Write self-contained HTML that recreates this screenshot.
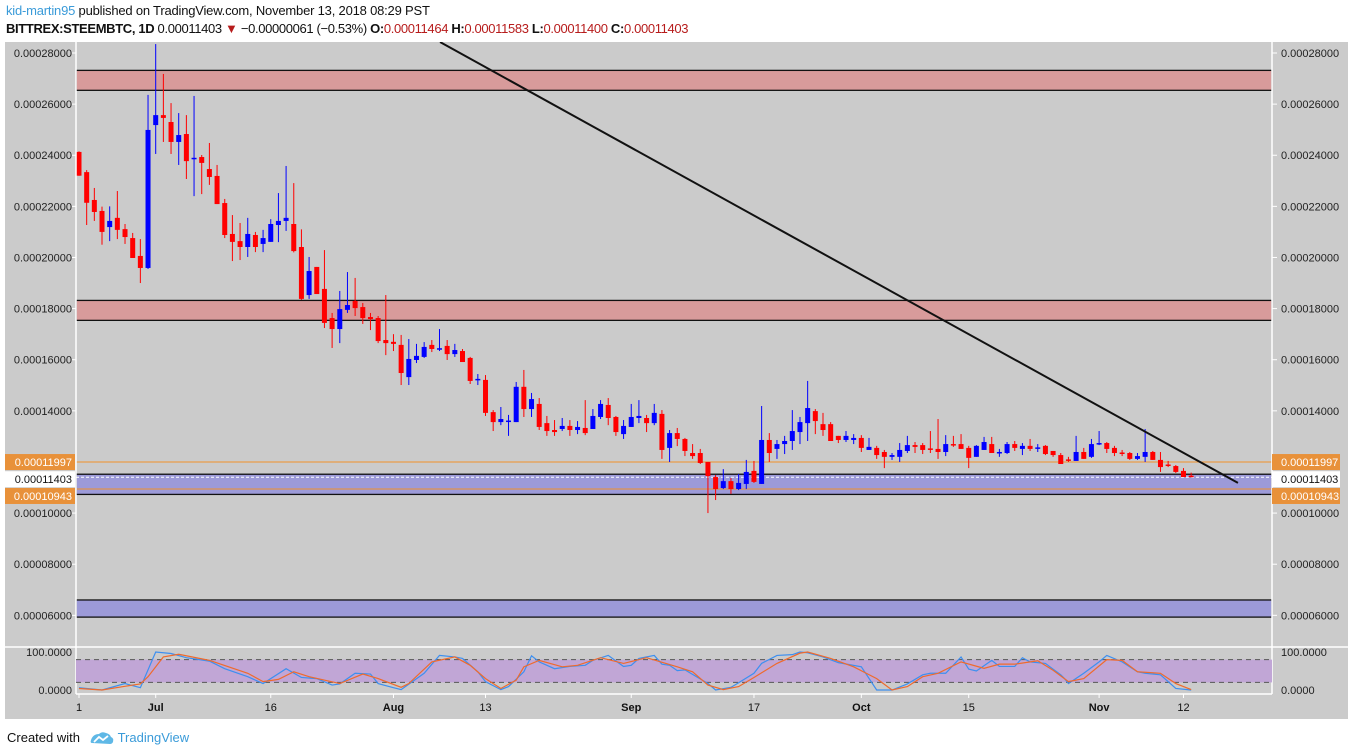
<!DOCTYPE html>
<html><head><meta charset="utf-8">
<style>
body{margin:0;width:1348px;height:756px;background:#fff;overflow:hidden;font-family:"Liberation Sans",sans-serif;}
#hdr1{position:absolute;left:6px;top:3px;font-size:13px;color:#111;white-space:nowrap;letter-spacing:-0.2px}
#hdr2{position:absolute;left:6px;top:21px;font-size:13px;color:#111;white-space:nowrap;letter-spacing:-0.35px}
.r{color:#b71c1c}
#foot{position:absolute;left:7px;top:730px;font-size:13px;color:#111;white-space:nowrap}
svg{position:absolute;left:0;top:0}
</style></head><body>
<div id="hdr1"><span style="color:#3a9bd9">kid-martin95</span> published on TradingView.com, November 13, 2018 08:29 PST</div>
<div id="hdr2"><b>BITTREX:STEEMBTC, 1D</b> 0.00011403 <span class="r">▼</span> −0.00000061 (−0.53%) <b>O:</b><span class="r">0.00011464</span> <b>H:</b><span class="r">0.00011583</span> <b>L:</b><span class="r">0.00011400</span> <b>C:</b><span class="r">0.00011403</span></div>
<svg id="chart" width="1348" height="756"></svg>
<div id="foot">Created with <svg style="position:relative;display:inline-block;vertical-align:-3px;margin:0 4px 0 6px" width="24" height="14" viewBox="0 0 24 14"><path d="M2 12 Q0 12 1 9 Q3 3 9 3 Q12 0 16 2 Q20 3 21 6 Q24 7 23 11 Q22 13 20 13 Z" fill="#5fb8e6"/><path d="M4 11 L9 6 L13 9 L18 5" stroke="#fff" stroke-width="1.8" fill="none"/></svg><span style="color:#3a9bd9">TradingView</span></div>
<script>
// prices in units of 1e-5 BTC
const opens=[24.13,23.34,22.25,21.82,21.19,21.55,21.11,20.76,20.06,19.59,25.18,25.57,25.3,24.52,24.83,23.85,23.93,23.46,23.19,22.13,20.92,20.64,20.41,20.88,20.53,20.61,21.27,21.43,21.31,20.41,18.53,19.63,18.77,17.63,17.2,17.95,18.3,18.06,17.67,17.63,16.77,16.7,16.58,15.32,15.99,16.11,16.58,16.4,16.54,16.22,16.34,16.07,15.2,15.21,13.95,13.56,13.58,13.56,14.94,14.07,14.27,13.52,13.25,13.29,13.41,13.25,13.33,13.29,13.76,14.23,13.76,13.09,13.37,13.72,13.72,13.52,13.88,12.55,13.13,12.9,12.35,12.35,12.0,11.41,10.98,11.25,10.94,11.14,11.65,11.14,12.86,12.51,12.7,12.82,13.17,13.52,13.99,13.48,13.48,13.02,12.86,12.86,12.94,12.47,12.55,12.39,12.2,12.2,12.43,12.66,12.66,12.53,12.51,12.39,12.7,12.7,12.55,12.2,12.47,12.7,12.35,12.35,12.7,12.51,12.63,12.53,12.63,12.43,12.27,12.1,12.04,12.39,12.2,12.7,12.74,12.55,12.37,12.35,12.12,12.2,12.39,12.08,11.9,11.84,11.65,11.464];
const highs=[24.15,23.42,22.72,21.99,22.0,22.6,21.31,20.96,20.72,26.36,28.35,27.18,26.04,25.65,25.57,26.32,24.01,24.48,23.62,22.29,21.66,21.35,21.55,21.0,21.08,21.5,22.52,23.58,22.91,21.1,20.02,19.63,20.29,17.83,18.69,19.43,19.2,18.22,17.83,17.71,18.53,17.0,16.97,16.81,16.62,16.69,16.77,17.2,16.77,16.62,16.42,16.11,15.44,15.4,14.03,14.15,13.84,15.13,15.6,14.7,14.5,13.8,13.64,13.72,13.64,13.6,14.42,14.07,14.42,14.5,13.8,13.64,14.27,14.42,13.84,14.27,14.03,13.25,13.33,12.94,12.7,12.51,12.0,11.49,11.72,11.37,11.53,12.08,12.04,14.19,13.13,12.86,13.02,14.03,13.76,15.17,14.07,13.92,13.56,13.02,13.21,13.09,13.05,12.94,12.63,12.47,12.35,12.74,13.02,12.78,12.74,13.21,13.68,13.05,13.02,13.09,12.63,12.66,12.98,12.98,12.51,12.78,12.82,12.74,12.9,12.7,12.66,12.43,12.35,12.2,13.02,12.55,12.9,13.21,12.78,12.63,12.47,12.39,12.35,13.29,12.43,12.39,12.04,11.88,11.76,11.583];
const lows=[23.2,21.27,21.43,20.5,20.64,20.72,20.53,19.98,19.0,19.55,24.05,24.52,24.05,23.62,23.07,22.4,22.48,22.84,22.09,20.76,19.86,19.9,20.02,20.21,20.21,20.61,20.6,21.04,20.2,18.34,18.38,18.57,17.24,16.46,16.65,17.83,17.71,17.4,17.16,16.65,16.18,16.34,15.01,15.01,15.87,16.07,16.3,16.34,15.99,16.11,15.91,15.05,15.01,13.8,13.21,13.44,13.02,13.56,13.76,13.76,13.25,13.02,13.02,13.21,13.02,13.09,13.05,13.29,13.68,13.44,13.02,12.9,13.37,13.52,13.17,13.44,12.12,12.0,12.62,12.23,12.12,11.92,10.0,10.51,10.94,10.75,10.9,10.94,11.18,11.14,12.0,12.12,12.31,12.47,12.7,12.82,13.09,13.02,12.82,12.74,12.78,12.7,12.39,12.47,12.12,11.76,12.08,12.0,12.35,12.35,12.31,12.35,12.12,12.23,12.59,12.51,11.76,12.2,12.47,12.35,12.2,12.31,12.43,12.27,12.43,12.39,12.27,12.2,11.92,12.0,12.04,12.12,12.16,12.66,12.35,12.23,12.23,12.08,12.08,12.0,12.08,11.61,11.8,11.57,11.41,11.40];
const closes=[23.2,22.14,21.78,21.0,21.43,21.08,20.8,19.98,19.59,24.99,25.57,25.46,24.52,24.79,23.77,23.9,23.7,23.15,22.09,20.88,20.61,20.41,20.92,20.41,20.76,21.31,21.43,21.55,20.25,18.38,19.47,18.57,17.44,17.2,17.98,18.14,18.02,17.63,17.59,16.73,16.65,16.62,15.48,16.03,16.15,16.5,16.42,16.45,16.22,16.38,15.91,15.17,15.25,13.92,13.56,13.68,13.62,14.94,14.07,14.46,13.37,13.21,13.17,13.41,13.25,13.37,13.13,13.8,14.27,13.72,13.17,13.41,13.76,13.8,13.52,13.92,12.47,13.13,12.9,12.43,12.23,11.96,11.45,10.94,11.25,10.94,11.18,11.61,11.22,12.86,12.35,12.7,12.82,13.21,13.56,14.11,13.6,13.25,12.82,12.86,13.02,12.94,12.55,12.59,12.27,12.2,12.27,12.47,12.66,12.59,12.47,12.49,12.39,12.7,12.66,12.51,12.16,12.63,12.78,12.35,12.39,12.7,12.55,12.63,12.51,12.57,12.31,12.27,11.92,12.06,12.39,12.12,12.7,12.74,12.51,12.35,12.33,12.12,12.23,12.39,12.08,11.8,11.86,11.61,11.41,11.403];
const priceTicks=[28,26,24,22,20,18,16,14,10,8,6];
const xTickIdx=[0,10,25,41,53,72,88,102,116,133,144];
const xTickLabels=["1","Jul","16","Aug","13","Sep","17","Oct","15","Nov","12"];
const xTickBold=[false,true,false,true,false,true,false,true,false,true,false];
const redZones=[[27.32,26.54],[18.32,17.54]];
const blueZones=[[11.52,10.73],[6.6,5.93]];
const levelLines=[11.997,10.943];
const lastPrice=11.403;
const trendIdx=[47.07,151.1];
const trendPrice=[28.43,11.18];
const kIdx=[0,3,6,8,10,12,14,17,19,22,24,27,29,31,33,34,36,38,39,41,42,45,47,49,50,52,53,55,56,58,59,60,62,64,66,67,69,71,72,73,75,76,77,78,79,82,83,85,86,88,89,91,93,94,95,97,99,102,104,106,108,110,111,113,115,116,117,119,120,122,123,124,126,128,128.5,129,131,133,134,136,138,139,141,143,145];
const kVal=[6,0,17,6,100,96,85,76,56,35,17,56,33,30,13,16,44,42,17,6,1,44,91,87,83,48,22,1,9,48,90,74,56,62,65,78,91,62,65,83,91,68,65,51,53,17,0,7,19,44,70,91,93,100,98,87,72,61,0,0,16,40,44,44,87,55,50,78,62,62,85,74,70,40,30,17,44,74,91,74,48,44,40,4,0];
const dIdx=[0,3,7,8,9,11,13,17,22,24,26,28,30,34,37,39,42,43,46,49,51,53,55,57,58,60,63,65,68,71,74,78,80,82,84,86,88,91,94,95,98,101,104,106,108,110,112,115,118,120,122,125,127,129,131,134,136,138,141,143,145];
const dVal=[4,0,13,16,35,87,94,78,44,22,28,48,35,17,42,30,7,17,74,87,65,30,4,26,61,78,61,65,85,70,85,61,48,13,1,9,33,70,97,100,83,61,30,0,9,35,44,74,57,68,68,77,52,22,30,80,78,48,44,17,1];
const stochTicks=[100,0];

const svg=document.getElementById('chart');
const NS='http://www.w3.org/2000/svg';
const PL=76,PR=1272,PT=42,PB=646,SB=694;
function xs(i){return 79+i*7.67;}
function ys(p){return 53+(28-p)*25.56;}
function ss(v){return 690-v*0.38;}
function mk(tag,attrs,parent){const e=document.createElementNS(NS,tag);for(const k in attrs)e.setAttribute(k,attrs[k]);(parent||svg).appendChild(e);return e;}
function fmt(p){return (p*1e-5).toFixed(8);}

const bg=mk('rect',{x:5,y:42,width:1343,height:677,fill:'#cbcbcb'});


mk('defs',{}).innerHTML='<clipPath id="mc"><rect x="76" y="42" width="1196" height="604"/></clipPath><clipPath id="sc"><rect x="76" y="647" width="1196" height="47"/></clipPath>';
const main=mk('g',{'clip-path':'url(#mc)'});



redZones.forEach((z,k)=>{
  const r=mk('rect',{x:PL,y:ys(z[0]),width:PR-PL,height:ys(z[1])-ys(z[0]),fill:'#d89b9b',stroke:'#111','stroke-width':1.3},main);
  
  
});
blueZones.forEach((z,k)=>{
  const r=mk('rect',{x:PL,y:ys(z[0]),width:PR-PL,height:ys(z[1])-ys(z[0]),fill:'#9c9ad8',stroke:'#111','stroke-width':1.3},main);
  
  
});
levelLines.forEach((p,k)=>{
  const l=mk('line',{x1:PL,x2:PR,y1:ys(p),y2:ys(p),stroke:'#f0902a','stroke-width':1},main);
  
  
});
const lp=mk('line',{x1:PL,x2:PR,y1:ys(lastPrice),y2:ys(lastPrice),stroke:'#fff','stroke-width':1,'stroke-dasharray':'3,2'},main);



for(let i=0;i<opens.length;i++){
  const up=closes[i]>=opens[i];
  const col=up?'#0000ff':'#ff0000';
  const g=mk('g',{},main);
  
  
  const x=xs(i);
  mk('line',{x1:x,x2:x,y1:ys(highs[i]),y2:ys(lows[i]),stroke:col,'stroke-width':1},g);
  const t=ys(Math.max(opens[i],closes[i])),b=ys(Math.min(opens[i],closes[i]));
  mk('rect',{x:x-2.5,y:t,width:5,height:Math.max(1.5,b-t),fill:col},g);
}
const tl=mk('line',{x1:xs(trendIdx[0]),y1:ys(trendPrice[0]),x2:xs(trendIdx[1]),y2:ys(trendPrice[1]),stroke:'#111','stroke-width':2},main);



// borders
mk('line',{x1:PL,x2:PL,y1:42,y2:SB,stroke:'#fff','stroke-width':1.5});
mk('line',{x1:PR,x2:PR,y1:42,y2:SB,stroke:'#fff','stroke-width':1.5});
mk('line',{x1:5,x2:1348,y1:647,y2:647,stroke:'#fff','stroke-width':1.5});
mk('line',{x1:PL,x2:PR,y1:SB,y2:SB,stroke:'#fff','stroke-width':1.5});

// price axes
priceTicks.forEach(p=>{
  const y=ys(p);
  const a=mk('text',{x:72,y:y+4,'text-anchor':'end','font-size':11,fill:'#222'});a.textContent=fmt(p);
  
  
  const b=mk('text',{x:1281,y:y+4,'font-size':11,fill:'#222'});b.textContent=fmt(p);
  
  
  mk('line',{x1:72,x2:76,y1:y,y2:y,stroke:'#fff'});
  mk('line',{x1:1272,x2:1277,y1:y,y2:y,stroke:'#fff'});
});
function badge(p,off,bgc,fg,name){
  const y=ys(p)+off;
  [[5,70,72,'end'],[1272,68,1281,'start']].forEach(s=>{
    mk('rect',{x:s[0],y:y-8,width:s[1],height:16,fill:bgc});
    const t=mk('text',{x:s[2],y:y+4,'text-anchor':s[3],'font-size':11,fill:fg});t.textContent=fmt(p);
    
    
  });
}
badge(levelLines[0],0,'#e8913a','#fff','level-label');
badge(lastPrice,2,'#fff','#111','last-price-label');
badge(levelLines[1],7,'#e8913a','#fff','level-label');

// stochastic
const sp=mk('g',{'clip-path':'url(#sc)'});


mk('rect',{x:PL,y:ss(80),width:PR-PL,height:ss(20)-ss(80),fill:'#c1a6d6'},sp);
[80,20].forEach(v=>mk('line',{x1:PL,x2:PR,y1:ss(v),y2:ss(v),stroke:'#555','stroke-dasharray':'5,4'},sp));
const kp=mk('polyline',{points:kIdx.map((d,j)=>xs(d)+','+ss(kVal[j])).join(' '),fill:'none',stroke:'#3d8ff0','stroke-width':1.2},sp);


const dp=mk('polyline',{points:dIdx.map((d,j)=>xs(d)+','+ss(dVal[j])).join(' '),fill:'none',stroke:'#ef6a2c','stroke-width':1.2},sp);


stochTicks.forEach(v=>{
  const a=mk('text',{x:72,y:ss(v)+4,'text-anchor':'end','font-size':11,fill:'#222'});a.textContent=v.toFixed(4);
  
  
  const b=mk('text',{x:1281,y:ss(v)+4,'font-size':11,fill:'#222'});b.textContent=v.toFixed(4);
  
  
});
// x axis
xTickIdx.forEach((d,j)=>{
  const x=xs(d);
  mk('line',{x1:x,x2:x,y1:SB,y2:SB+4,stroke:'#fff'});
  const t=mk('text',{x:x,y:711,'text-anchor':'middle','font-size':11,fill:'#111','font-weight':xTickBold[j]?'bold':'normal'});
  t.textContent=xTickLabels[j];
  
  
});
</script>
</body></html>
